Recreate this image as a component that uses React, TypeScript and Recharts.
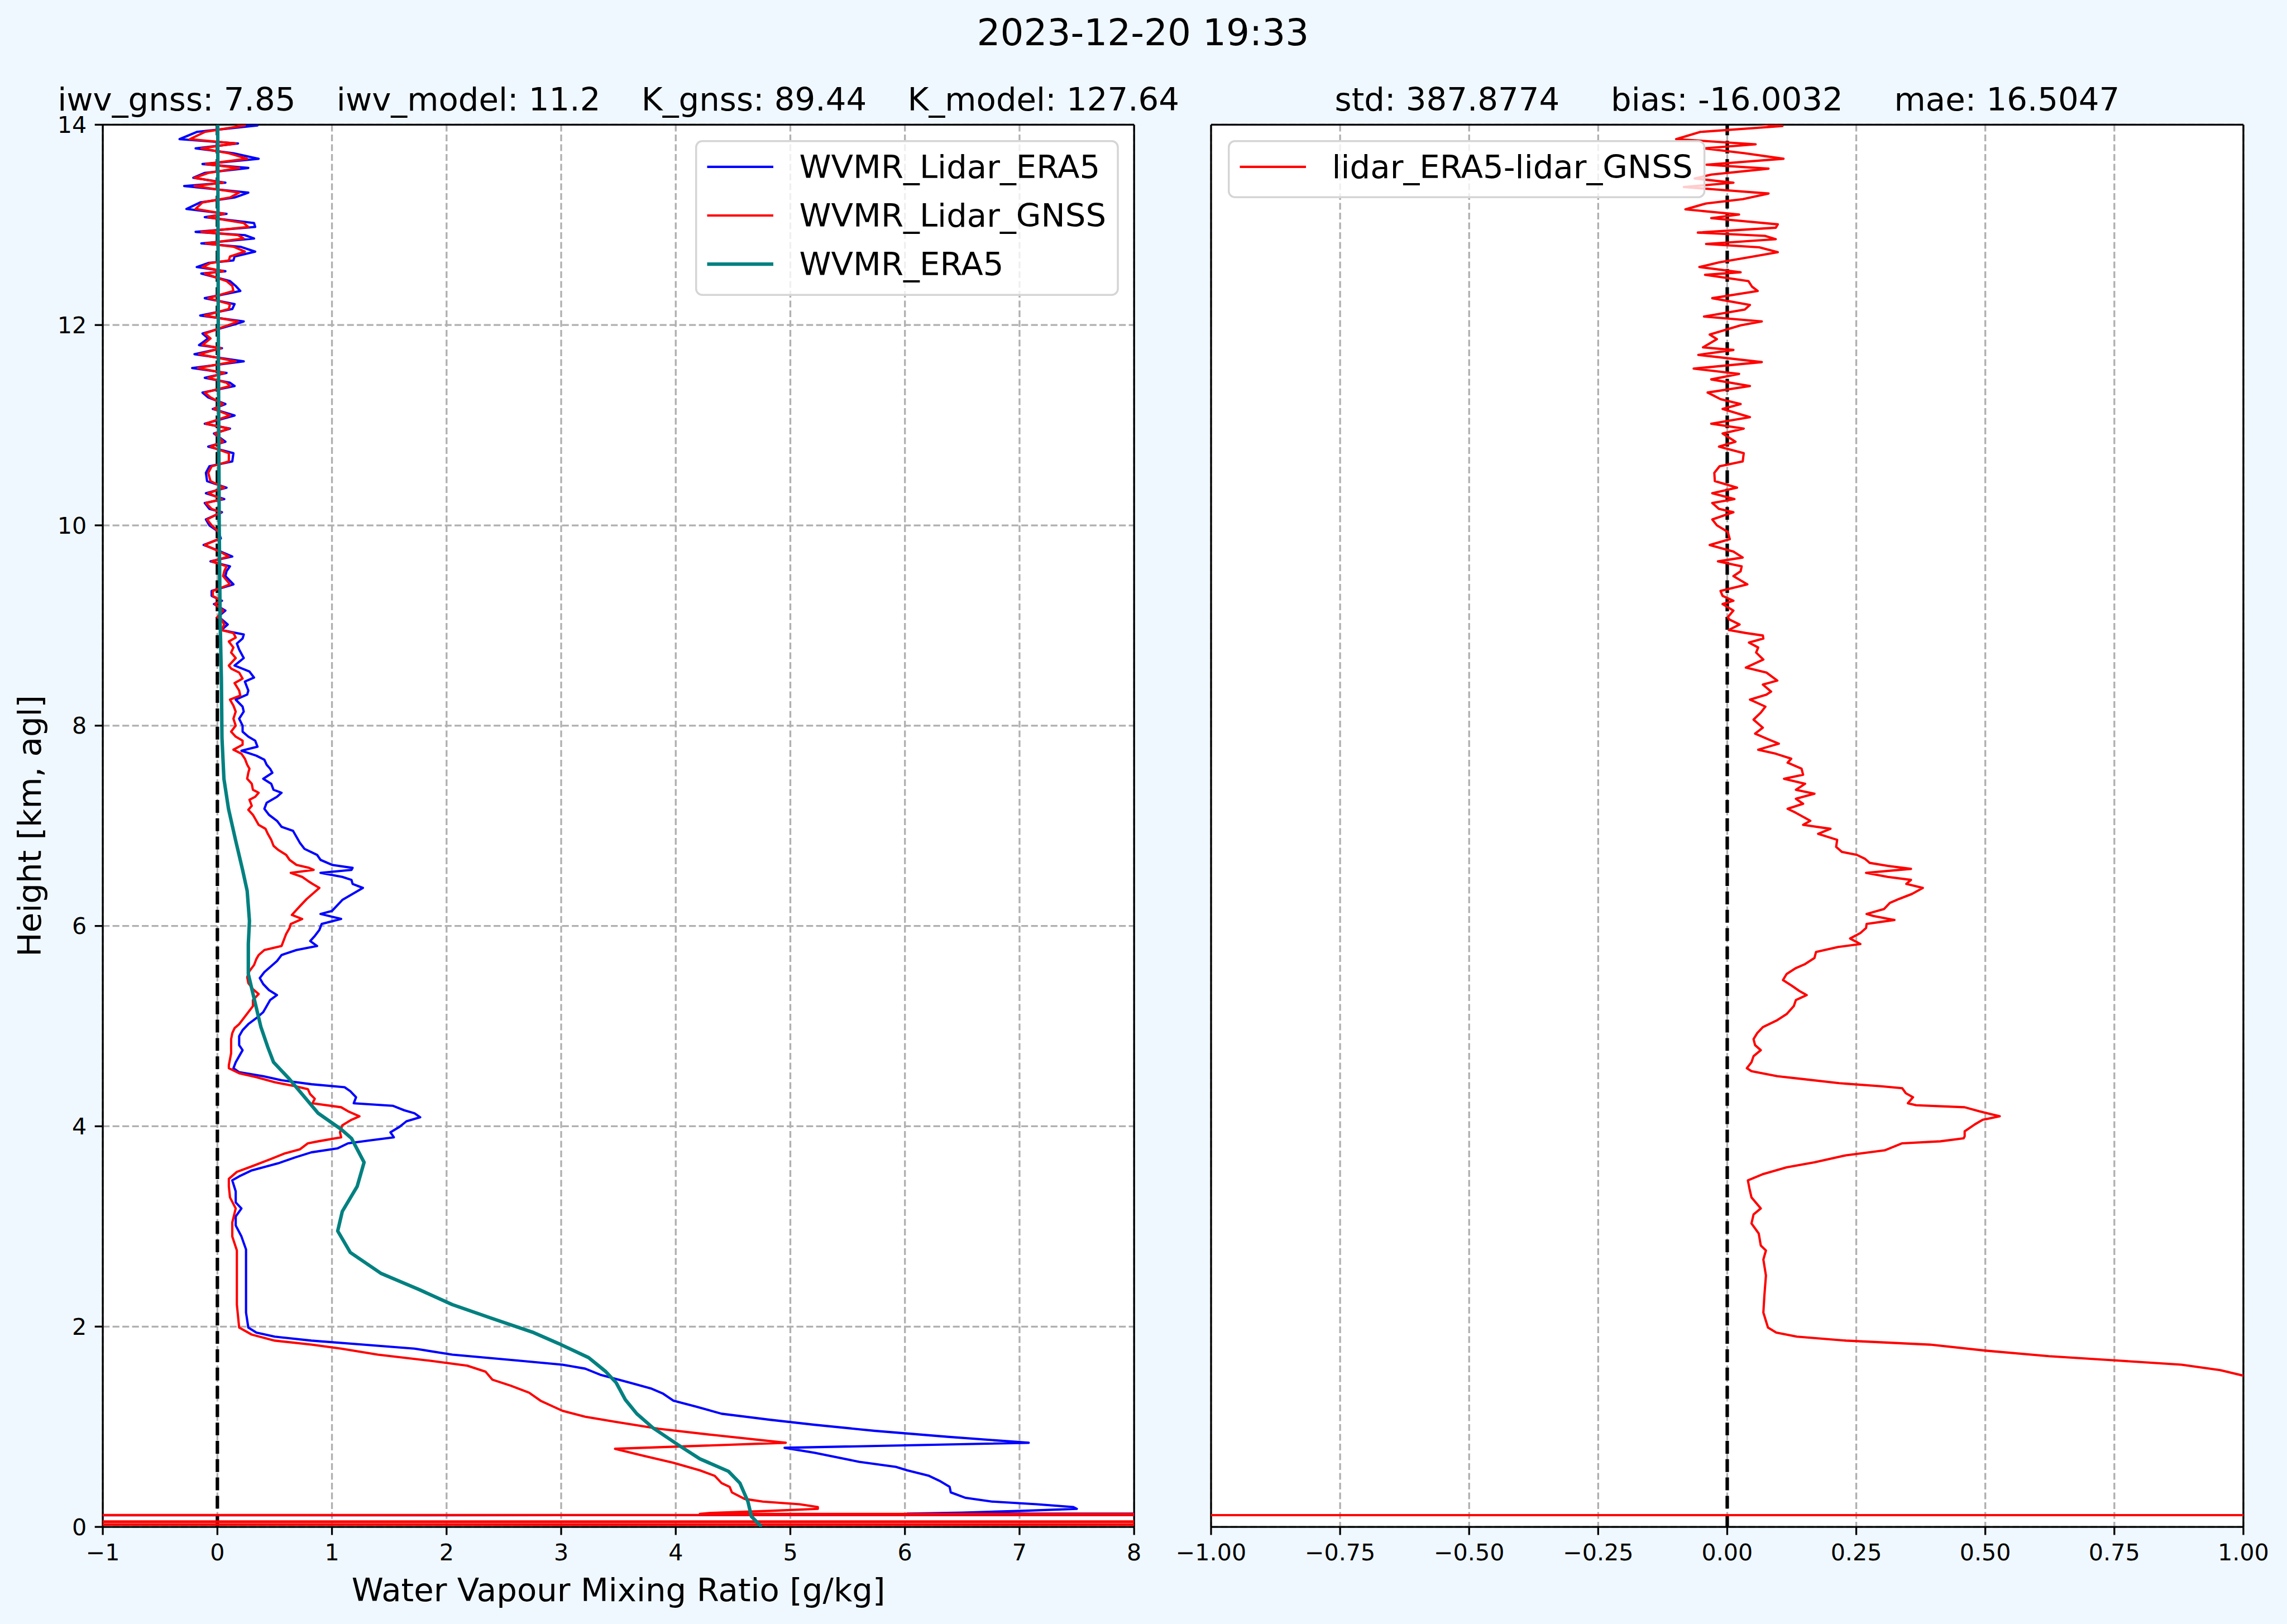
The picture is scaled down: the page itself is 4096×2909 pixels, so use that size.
import React from 'react';
import {
  ScatterChart,
  Scatter,
  XAxis,
  YAxis,
  CartesianGrid,
  ReferenceLine,
  Legend,
} from 'recharts';

// profiles are [height km, value] pairs, read from top to bottom
const heightTicks = [0, 2, 4, 6, 8, 10, 12, 14];
const wvmrTicks = [-1, 0, 1, 2, 3, 4, 5, 6, 7, 8];
const diffTicks = [-1, -0.75, -0.5, -0.25, 0, 0.25, 0.5, 0.75, 1];

const lidarEra5: [number, number][] = [
  [14.03, 0.07], [13.993, 0.35], [13.928, -0.18], [13.856, -0.33], [13.813, 0.18], [13.764, -0.19],
  [13.715, 0.14], [13.66, 0.36], [13.607, -0.13], [13.568, 0.27], [13.519, -0.11], [13.47, -0.21],
  [13.421, 0.07], [13.388, -0.29], [13.322, 0.27], [13.273, 0.15], [13.224, -0.15], [13.159, -0.27],
  [13.11, 0.08], [13.077, -0.11], [13.018, 0.32], [12.979, 0.33], [12.93, -0.19], [12.897, 0.24],
  [12.864, 0.32], [12.815, -0.14], [12.782, 0.2], [12.733, 0.33], [12.684, 0.15], [12.645, 0.14],
  [12.619, -0.08], [12.579, -0.18], [12.537, 0.07], [12.514, -0.14], [12.439, 0.11], [12.39, 0.16],
  [12.34, 0.2], [12.268, -0.11], [12.209, 0.15], [12.16, 0.13], [12.095, -0.15], [12.036, 0.23],
  [12.013, 0.17], [11.915, -0.13], [11.866, -0.08], [11.8, -0.16], [11.768, 0.04], [11.709, -0.2],
  [11.637, 0.23], [11.571, -0.22], [11.522, 0.08], [11.473, -0.11], [11.424, 0.11], [11.391, 0.15],
  [11.326, -0.13], [11.277, -0.08], [11.211, 0.07], [11.162, -0.04], [11.097, 0.15], [11.015, -0.11],
  [10.966, 0.11], [10.917, -0.03], [10.835, 0.07], [10.786, -0.08], [10.72, 0.14], [10.638, 0.13],
  [10.589, -0.07], [10.524, -0.1], [10.442, -0.09], [10.376, 0.08], [10.321, -0.1], [10.262, 0.06],
  [10.223, -0.11], [10.164, -0.07], [10.131, 0.04], [10.059, -0.1], [10.0, -0.07], [9.935, 0.01],
  [9.869, 0.03], [9.804, -0.12], [9.738, 0.03], [9.689, 0.13], [9.64, -0.06], [9.591, 0.11],
  [9.542, 0.08], [9.493, 0.07], [9.411, 0.14], [9.345, -0.05], [9.296, -0.05], [9.247, 0.04],
  [9.214, -0.03], [9.149, 0.07], [9.083, 0.0],
  [9.06, 0.04], [9.01, 0.09], [8.955, 0.035], [8.91, 0.23], [8.87, 0.22], [8.82, 0.17], [8.76, 0.19],
  [8.675, 0.23], [8.6, 0.15], [8.54, 0.28], [8.48, 0.32], [8.44, 0.24], [8.35, 0.27], [8.31, 0.26],
  [8.26, 0.16], [8.19, 0.22], [8.14, 0.23], [8.07, 0.19], [8.0, 0.22], [7.94, 0.22], [7.89, 0.27],
  [7.85, 0.33], [7.79, 0.35], [7.75, 0.21], [7.7, 0.34], [7.66, 0.41], [7.61, 0.43], [7.57, 0.46],
  [7.53, 0.48], [7.47, 0.4], [7.42, 0.47], [7.36, 0.49], [7.33, 0.56], [7.29, 0.52], [7.23, 0.43],
  [7.17, 0.41], [7.11, 0.45], [7.05, 0.52], [6.99, 0.56], [6.95, 0.66], [6.89, 0.69], [6.83, 0.72],
  [6.77, 0.76], [6.71, 0.87], [6.66, 0.9], [6.61, 1.0], [6.58, 1.18], [6.56, 1.17], [6.53, 0.9],
  [6.49, 1.09], [6.46, 1.17], [6.42, 1.18], [6.38, 1.27], [6.32, 1.18], [6.26, 1.09], [6.21, 1.05],
  [6.15, 1.0], [6.12, 0.9], [6.07, 1.08], [6.02, 0.91], [5.96, 0.89], [5.9, 0.85], [5.85, 0.81],
  [5.8, 0.87], [5.76, 0.69], [5.71, 0.56], [5.65, 0.52], [5.6, 0.47], [5.54, 0.41], [5.48, 0.37],
  [5.42, 0.4], [5.36, 0.45], [5.31, 0.52], [5.26, 0.46], [5.2, 0.43], [5.14, 0.4], [5.08, 0.34],
  [5.02, 0.27], [4.96, 0.22], [4.9, 0.19], [4.81, 0.19], [4.76, 0.22], [4.7, 0.19], [4.64, 0.16],
  [4.58, 0.14], [4.54, 0.19],
  [4.5, 0.4], [4.46, 0.56], [4.42, 0.82], [4.39, 1.11], [4.35, 1.16], [4.29, 1.21], [4.23, 1.19],
  [4.205, 1.53], [4.16, 1.63], [4.13, 1.72], [4.09, 1.77], [4.05, 1.65], [3.995, 1.59], [3.94, 1.51],
  [3.89, 1.54], [3.86, 1.34], [3.83, 1.14], [3.78, 1.05], [3.74, 0.82], [3.69, 0.68], [3.63, 0.53],
  [3.56, 0.3], [3.5, 0.19], [3.46, 0.13], [3.35, 0.16], [3.24, 0.16], [3.18, 0.21], [3.1, 0.16],
  [3.01, 0.16], [2.9, 0.21], [2.77, 0.25], [2.65, 0.25], [2.37, 0.25], [2.14, 0.25], [1.99, 0.27],
  [1.94, 0.34], [1.9, 0.5], [1.86, 0.82], [1.82, 1.27], [1.78, 1.72], [1.72, 2.05], [1.66, 2.63],
  [1.62, 3.01], [1.58, 3.21], [1.52, 3.34], [1.44, 3.6], [1.38, 3.79], [1.33, 3.89], [1.26, 3.98],
  [1.2, 4.18], [1.13, 4.4], [1.07, 4.82], [1.02, 5.21], [0.96, 5.73], [0.9, 6.37], [0.84, 7.08],
  [0.79, 4.95], [0.74, 5.21], [0.65, 5.6], [0.6, 5.92], [0.565, 6.02], [0.51, 6.21], [0.455, 6.31],
  [0.4, 6.39], [0.345, 6.4], [0.29, 6.53], [0.253, 6.76], [0.226, 7.15], [0.198, 7.47], [0.18, 7.5],
  [0.16, 7.02], [0.143, 6.5], [0.133, 6.02], [0.121, 60], [0.113, -60],
];

const lidarGnss: [number, number][] = [
  [14.03, 0.05], [13.993, 0.24], [13.928, -0.11], [13.856, -0.24], [13.813, 0.16], [13.764, -0.14],
  [13.715, 0.1], [13.66, 0.26], [13.607, -0.1], [13.568, 0.19], [13.519, -0.08], [13.47, -0.2],
  [13.421, 0.05], [13.388, -0.2], [13.322, 0.19], [13.273, 0.11], [13.224, -0.13], [13.159, -0.19],
  [13.11, 0.06], [13.077, -0.08], [13.018, 0.23], [12.979, 0.27], [12.93, -0.14], [12.897, 0.18],
  [12.864, 0.23], [12.815, -0.1], [12.782, 0.14], [12.733, 0.24], [12.684, 0.11], [12.645, 0.1],
  [12.619, -0.06], [12.579, -0.13], [12.537, 0.05], [12.514, -0.11], [12.439, 0.08], [12.39, 0.13],
  [12.34, 0.14], [12.268, -0.08], [12.209, 0.11], [12.16, 0.1], [12.095, -0.11], [12.036, 0.18],
  [12.013, 0.13], [11.915, -0.11], [11.866, -0.06], [11.8, -0.13], [11.768, 0.03], [11.709, -0.16],
  [11.637, 0.16], [11.571, -0.17], [11.522, 0.06], [11.473, -0.08], [11.424, 0.08], [11.391, 0.11],
  [11.326, -0.11], [11.277, -0.06], [11.211, 0.05], [11.162, -0.03], [11.097, 0.11], [11.015, -0.1],
  [10.966, 0.1], [10.917, -0.02], [10.835, 0.05], [10.786, -0.06], [10.72, 0.1], [10.638, 0.1],
  [10.589, -0.05], [10.524, -0.08], [10.442, -0.06], [10.376, 0.06], [10.321, -0.08], [10.262, 0.04],
  [10.223, -0.1], [10.164, -0.05], [10.131, 0.03], [10.059, -0.09], [10.0, -0.05], [9.935, 0.01],
  [9.869, 0.02], [9.804, -0.11], [9.738, 0.02], [9.689, 0.1], [9.64, -0.05], [9.591, 0.08],
  [9.542, 0.06], [9.493, 0.05], [9.411, 0.11], [9.345, -0.04], [9.296, -0.04], [9.247, 0.03],
  [9.214, -0.02], [9.149, 0.05], [9.083, 0.0],
  [9.06, 0.035], [9.01, 0.06], [8.955, 0.035], [8.925, 0.14], [8.88, 0.16], [8.84, 0.1], [8.78, 0.14],
  [8.73, 0.12], [8.675, 0.16], [8.6, 0.1], [8.57, 0.12], [8.53, 0.19], [8.47, 0.22], [8.425, 0.15],
  [8.35, 0.19], [8.3, 0.2], [8.26, 0.11], [8.2, 0.14], [8.14, 0.16], [8.07, 0.14], [8.0, 0.16],
  [7.94, 0.12], [7.89, 0.16], [7.85, 0.22], [7.81, 0.22], [7.76, 0.14], [7.72, 0.21], [7.67, 0.24],
  [7.61, 0.26], [7.57, 0.28], [7.53, 0.27], [7.47, 0.26], [7.42, 0.3], [7.36, 0.31], [7.33, 0.36],
  [7.29, 0.33], [7.26, 0.28], [7.2, 0.3], [7.16, 0.27], [7.11, 0.31], [7.05, 0.34], [7.01, 0.36],
  [6.97, 0.42], [6.92, 0.44], [6.86, 0.47], [6.8, 0.49], [6.76, 0.53], [6.71, 0.6], [6.66, 0.63],
  [6.61, 0.69], [6.58, 0.8], [6.56, 0.84], [6.53, 0.64], [6.49, 0.74], [6.45, 0.79], [6.42, 0.83],
  [6.38, 0.89], [6.32, 0.83], [6.27, 0.78], [6.21, 0.73], [6.16, 0.69], [6.11, 0.65], [6.07, 0.74],
  [6.02, 0.64], [5.98, 0.63], [5.92, 0.6], [5.86, 0.58], [5.8, 0.56], [5.76, 0.41], [5.71, 0.36],
  [5.67, 0.34], [5.61, 0.32], [5.55, 0.28], [5.49, 0.26], [5.43, 0.27], [5.37, 0.31], [5.32, 0.36],
  [5.26, 0.31], [5.2, 0.31], [5.14, 0.27], [5.08, 0.23], [5.02, 0.19], [4.98, 0.15], [4.93, 0.13],
  [4.87, 0.12], [4.8, 0.12], [4.73, 0.12], [4.67, 0.11], [4.61, 0.1], [4.58, 0.1], [4.53, 0.19],
  [4.49, 0.34], [4.44, 0.5], [4.4, 0.68], [4.37, 0.79], [4.32, 0.81], [4.275, 0.85], [4.23, 0.83],
  [4.19, 1.08], [4.15, 1.14], [4.1, 1.24], [4.065, 1.17], [4.01, 1.09], [3.94, 1.07], [3.89, 1.08],
  [3.85, 0.88], [3.83, 0.79], [3.77, 0.72], [3.73, 0.59], [3.67, 0.46], [3.6, 0.3], [3.545, 0.17],
  [3.475, 0.1], [3.4, 0.1], [3.29, 0.11], [3.18, 0.16], [3.04, 0.13], [2.9, 0.13], [2.76, 0.17],
  [2.51, 0.17], [2.22, 0.17], [1.99, 0.19], [1.92, 0.3], [1.86, 0.5], [1.82, 0.82], [1.78, 1.08],
  [1.72, 1.4], [1.66, 1.85], [1.61, 2.18], [1.55, 2.34], [1.47, 2.4], [1.41, 2.56], [1.34, 2.72],
  [1.26, 2.82], [1.16, 3.01], [1.1, 3.21], [1.05, 3.47], [0.98, 3.85], [0.92, 4.31], [0.84, 4.96],
  [0.78, 3.47], [0.71, 3.72], [0.64, 3.98], [0.565, 4.21], [0.51, 4.34], [0.437, 4.4], [0.4, 4.47],
  [0.345, 4.49], [0.28, 4.6], [0.253, 4.76], [0.226, 5.08], [0.198, 5.24], [0.18, 5.24], [0.16, 4.82],
  [0.14, 4.31], [0.13, 4.21], [0.122, 60], [0.115, -60], [0.056, -60], [0.054, 60], [0.049, 60],
  [0.047, -60], [0.024, -60], [0.021, 60],
];

const era5: [number, number][] = [
  [14.0, 0.003], [12.0, 0.008], [10.0, 0.016], [9.06, 0.024], [8.47, 0.035], [7.88, 0.04],
  [7.47, 0.057], [7.17, 0.097], [6.85, 0.16], [6.56, 0.22], [6.35, 0.26], [6.05, 0.28], [5.82, 0.27],
  [5.52, 0.27], [5.23, 0.33], [4.99, 0.38], [4.79, 0.44], [4.64, 0.49], [4.47, 0.63], [4.13, 0.88],
  [3.97, 1.08], [3.88, 1.17], [3.64, 1.28], [3.4, 1.22], [3.15, 1.09], [2.955, 1.05], [2.74, 1.16],
  [2.53, 1.43], [2.37, 1.76], [2.22, 2.05], [2.08, 2.4], [1.94, 2.76], [1.83, 2.98], [1.69, 3.24],
  [1.55, 3.39], [1.44, 3.48], [1.27, 3.56], [1.13, 3.66], [0.99, 3.8], [0.82, 4.02], [0.68, 4.21],
  [0.555, 4.46], [0.437, 4.56], [0.253, 4.63], [0.105, 4.66], [0.0, 4.75],
];

const era5MinusGnss: [number, number][] = [
  [14.03, 0.02], [13.987, 0.107], [13.928, -0.052], [13.856, -0.099], [13.804, 0.055], [13.764, -0.045],
  [13.715, 0.034], [13.66, 0.109], [13.601, -0.04], [13.561, 0.08], [13.502, -0.031], [13.463, -0.063],
  [13.421, 0.012], [13.378, -0.084], [13.313, 0.08], [13.257, 0.03], [13.214, -0.041], [13.155, -0.081],
  [13.103, 0.023], [13.067, -0.031], [13.005, 0.098], [12.972, 0.094], [12.923, -0.057], [12.89, 0.073],
  [12.857, 0.094], [12.809, -0.041], [12.776, 0.062], [12.727, 0.098], [12.678, 0.044], [12.625, -0.016],
  [12.579, -0.054], [12.527, 0.026], [12.501, -0.043], [12.439, 0.041], [12.383, 0.048], [12.34, 0.059],
  [12.268, -0.029], [12.2, 0.044], [12.154, 0.034], [12.085, -0.045], [12.036, 0.067], [11.997, 0.026],
  [11.905, -0.034], [11.859, -0.02], [11.777, -0.047], [11.751, 0.012], [11.702, -0.056], [11.63, 0.067],
  [11.565, -0.065], [11.512, 0.023], [11.457, -0.031], [11.391, 0.044], [11.326, -0.038], [11.26, -0.013],
  [11.211, 0.026], [11.162, -0.009], [11.08, 0.044], [11.015, -0.031], [10.966, 0.032], [10.917, -0.009],
  [10.835, 0.016], [10.786, -0.016], [10.72, 0.032], [10.638, 0.03], [10.589, -0.015], [10.524, -0.025],
  [10.442, -0.024], [10.376, 0.019], [10.321, -0.029], [10.262, 0.014], [10.223, -0.029], [10.164, -0.016],
  [10.131, 0.012], [10.059, -0.029], [10.0, -0.02], [9.935, 0.001], [9.862, 0.005], [9.804, -0.034],
  [9.738, 0.012], [9.679, 0.03], [9.64, -0.018], [9.591, 0.028], [9.542, 0.026], [9.493, 0.012],
  [9.411, 0.039], [9.345, -0.013], [9.296, -0.009], [9.247, 0.012], [9.214, -0.009], [9.149, 0.012],
  [9.083, 0.001],
  [9.06, 0.004], [9.01, 0.024], [8.955, 0.003], [8.925, 0.036], [8.9, 0.069], [8.87, 0.07], [8.83, 0.042],
  [8.78, 0.06], [8.73, 0.056], [8.66, 0.07], [8.58, 0.036], [8.53, 0.076], [8.45, 0.097], [8.41, 0.069],
  [8.34, 0.085], [8.31, 0.076], [8.26, 0.044], [8.19, 0.074], [8.13, 0.065], [8.06, 0.051], [7.98, 0.069],
  [7.92, 0.054], [7.86, 0.081], [7.82, 0.1], [7.76, 0.06], [7.72, 0.094], [7.67, 0.124], [7.63, 0.117],
  [7.57, 0.144], [7.51, 0.147], [7.47, 0.11], [7.42, 0.151], [7.36, 0.133], [7.32, 0.169], [7.27, 0.133],
  [7.22, 0.147], [7.17, 0.117], [7.13, 0.133], [7.05, 0.161], [7.01, 0.147], [6.97, 0.2], [6.92, 0.176],
  [6.86, 0.213], [6.79, 0.211], [6.74, 0.222], [6.71, 0.251], [6.67, 0.267], [6.63, 0.276], [6.6, 0.311],
  [6.57, 0.356], [6.53, 0.269], [6.49, 0.311], [6.46, 0.356], [6.42, 0.347], [6.38, 0.379], [6.32, 0.358],
  [6.27, 0.333], [6.23, 0.315], [6.17, 0.304], [6.12, 0.27], [6.1, 0.283], [6.06, 0.324], [6.02, 0.27],
  [5.98, 0.269], [5.93, 0.258], [5.875, 0.238], [5.82, 0.258], [5.79, 0.215], [5.74, 0.172], [5.68, 0.169],
  [5.62, 0.151], [5.58, 0.133], [5.52, 0.115], [5.46, 0.108], [5.4, 0.126], [5.35, 0.14], [5.31, 0.154],
  [5.26, 0.133], [5.2, 0.129], [5.12, 0.115], [5.06, 0.097], [4.99, 0.069], [4.93, 0.058], [4.87, 0.051],
  [4.81, 0.054], [4.76, 0.065], [4.7, 0.051], [4.64, 0.047], [4.58, 0.038], [4.55, 0.047], [4.5, 0.097],
  [4.47, 0.149], [4.43, 0.217], [4.4, 0.298], [4.38, 0.339], [4.33, 0.346], [4.29, 0.36], [4.23, 0.35],
  [4.21, 0.366], [4.19, 0.46], [4.15, 0.488], [4.1, 0.528], [4.065, 0.495], [4.02, 0.48], [3.95, 0.46],
  [3.9, 0.46], [3.88, 0.458], [3.85, 0.413], [3.83, 0.339], [3.76, 0.305], [3.71, 0.23], [3.64, 0.169],
  [3.59, 0.115], [3.52, 0.068], [3.46, 0.04], [3.38, 0.043], [3.29, 0.047], [3.18, 0.065], [3.12, 0.051],
  [3.03, 0.047], [2.93, 0.061], [2.81, 0.065], [2.76, 0.075], [2.67, 0.07], [2.51, 0.075], [2.31, 0.072],
  [2.14, 0.07], [1.99, 0.079], [1.94, 0.095], [1.9, 0.135], [1.86, 0.23], [1.82, 0.393], [1.76, 0.501],
  [1.705, 0.623], [1.66, 0.759], [1.62, 0.88], [1.565, 0.955], [1.51, 1.0], [1.45, 1.1], [1.3, 1.2],
  [1.1, 1.4], [0.84, 2.12], [0.78, 1.48], [0.5, 1.8], [0.2, 2.23], [0.133, 1.8], [0.118, 1.8],
  [0.113, -40],
];

const FONT = 'DejaVu Sans';
const BG = '#f0f8ff';
const tickStyle = { fill: '#000', fontSize: 41.25, fontFamily: FONT };
const spine = { stroke: '#000', strokeWidth: 3.3 };
const preText = { whiteSpace: 'pre' as const };

const toPoints = (profile: [number, number][]) => profile.map(([h, v]) => ({ x: v, y: h }));
const minus = (s: string) => s.replace('-', '\u2212');
const noDot = () => <g />;

function LegendBox({ width, height, items }: { width: number; height: number; items: { label: string; color: string; lw: number }[] }) {
  return (
    <svg width={width} height={height} style={{ display: 'block' }}>
      <rect x={1.75} y={1.75} width={width - 3.5} height={height - 3.5} rx={11} ry={11}
        fill="rgba(255,255,255,0.8)" stroke="#d5d5d5" strokeWidth={3.5} />
      {items.map((it, i) => (
        <g key={it.label}>
          <line x1={21.5} x2={140} y1={47.9 + i * 87.1} y2={47.9 + i * 87.1} stroke={it.color} strokeWidth={it.lw} />
          <text x={186.5} y={67.7 + i * 87.1} fontSize={57.75} fontFamily={FONT} fill="#000">{it.label}</text>
        </g>
      ))}
    </svg>
  );
}

function WvmrPanel() {
  return (
    <div style={{ position: 'absolute', left: 0, top: 0 }}>
      <ScatterChart width={2100} height={2909} margin={{ top: 223.4, right: 68.8, bottom: 73.9, left: 64.1 }}>
        <CartesianGrid fill="#ffffff" stroke="#b0b0b0" strokeWidth={3.3} strokeDasharray="12.2 5.3" />
        <XAxis type="number" dataKey="x" domain={[-1, 8]} ticks={wvmrTicks} interval={0} allowDataOverflow
          tickFormatter={(v: number) => minus(String(v))} tick={tickStyle} tickLine={spine} axisLine={spine}
          tickSize={14.4} tickMargin={16} height={100} />
        <YAxis type="number" dataKey="y" domain={[0, 14]} ticks={heightTicks} interval={0} allowDataOverflow
          tick={tickStyle} tickLine={spine} axisLine={spine} tickSize={14.4} tickMargin={14.4} width={120} />
        <Scatter data={toPoints(lidarEra5)} shape={noDot} isAnimationActive={false} lineJointType="linear"
          line={{ stroke: '#0000ff', strokeWidth: 4.1, strokeLinejoin: 'round' }} />
        <Scatter data={toPoints(lidarGnss)} shape={noDot} isAnimationActive={false} lineJointType="linear"
          line={{ stroke: '#ff0000', strokeWidth: 4.1, strokeLinejoin: 'round' }} />
        <Scatter data={toPoints(era5)} shape={noDot} isAnimationActive={false} lineJointType="linear"
          line={{ stroke: '#008080', strokeWidth: 6.2, strokeLinejoin: 'round' }} />
        <ReferenceLine x={0} stroke="#000" strokeWidth={6.2} strokeDasharray="22.9 9.9" />
        <ReferenceLine y={14} stroke="#000" strokeWidth={3.3} />
        <ReferenceLine x={8} stroke="#000" strokeWidth={3.3} />
        <Legend layout="vertical" align="center" verticalAlign="middle" width={758.8} height={278.9}
          wrapperStyle={{ left: 1244.8, top: 250.8, width: 758.8, height: 278.9 }}
          content={() => (
            <LegendBox width={758.8} height={278.9} items={[
              { label: 'WVMR_Lidar_ERA5', color: '#0000ff', lw: 4.1 },
              { label: 'WVMR_Lidar_GNSS', color: '#ff0000', lw: 4.1 },
              { label: 'WVMR_ERA5', color: '#008080', lw: 6.2 },
            ]} />
          )} />
      </ScatterChart>
    </div>
  );
}

function DiffPanel() {
  return (
    <div style={{ position: 'absolute', left: 2100, top: 0 }}>
      <ScatterChart width={1996} height={2909} margin={{ top: 223.4, right: 78.1, bottom: 73.9, left: 9 }}>
        <CartesianGrid fill="#ffffff" stroke="#b0b0b0" strokeWidth={3.3} strokeDasharray="12.2 5.3" />
        <XAxis type="number" dataKey="x" domain={[-1, 1]} ticks={diffTicks} interval={0} allowDataOverflow
          tickFormatter={(v: number) => minus(v.toFixed(2))} tick={tickStyle} tickLine={spine} axisLine={spine}
          tickSize={14.4} tickMargin={16} height={100} />
        <YAxis type="number" dataKey="y" domain={[0, 14]} ticks={heightTicks} interval={0} allowDataOverflow
          tick={false} tickLine={spine} axisLine={spine} tickSize={14.4} width={60} />
        <Scatter data={toPoints(era5MinusGnss)} shape={noDot} isAnimationActive={false} lineJointType="linear"
          line={{ stroke: '#ff0000', strokeWidth: 4.1, strokeLinejoin: 'round' }} />
        <ReferenceLine x={0} stroke="#000" strokeWidth={6.2} strokeDasharray="22.9 9.9" />
        <ReferenceLine y={14} stroke="#000" strokeWidth={3.3} />
        <ReferenceLine x={1} stroke="#000" strokeWidth={3.3} />
        <Legend layout="vertical" align="center" verticalAlign="middle" width={855.4} height={104}
          wrapperStyle={{ left: 99.3, top: 250.8, width: 855.4, height: 104 }}
          content={() => (
            <LegendBox width={855.4} height={104} items={[
              { label: 'lidar_ERA5-lidar_GNSS', color: '#ff0000', lw: 4.1 },
            ]} />
          )} />
      </ScatterChart>
    </div>
  );
}

export default function App() {
  return (
    <div style={{ position: 'absolute', left: 0, top: 0, width: 4096, height: 2909, background: BG, overflow: 'hidden' }}>
      <WvmrPanel />
      <DiffPanel />
      <svg width={4096} height={2909} style={{ position: 'absolute', left: 0, top: 0, pointerEvents: 'none' }}>
        <g fontFamily={FONT} fill="#000" textAnchor="middle">
          <text x={2046.8} y={80.9} fontSize={66}>2023-12-20 19:33</text>
          <text x={1107.65} y={198} fontSize={57.75} xmlSpace="preserve" style={preText}>
            {'iwv_gnss: 7.85    iwv_model: 11.2    K_gnss: 89.44    K_model: 127.64'}
          </text>
          <text x={3093.45} y={198} fontSize={57.75} xmlSpace="preserve" style={preText}>
            {'std: 387.8774     bias: -16.0032     mae: 16.5047'}
          </text>
          <text x={1107.65} y={2867.7} fontSize={57.75}>Water Vapour Mixing Ratio [g/kg]</text>
          <text x={73.3} y={1479.3} fontSize={57.75} transform="rotate(-90 73.3 1479.3)">Height [km, agl]</text>
        </g>
      </svg>
    </div>
  );
}
